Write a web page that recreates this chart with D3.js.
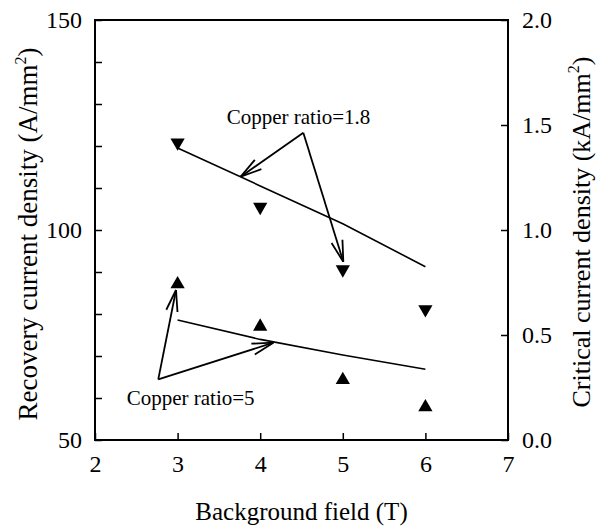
<!DOCTYPE html>
<html>
<head>
<meta charset="utf-8">
<script src="https://cdn.jsdelivr.net/npm/d3@7"></script>
<style>
  html, body { margin: 0; padding: 0; background: #fff; }
  svg { display: block; }
  text { font-family: "Liberation Serif", "Times New Roman", serif; fill: #000; }
</style>
</head>
<body>
<svg id="chart" width="603" height="530"></svg>
<script>
// ---- data ----
const fields = [3, 4, 5, 6];                       // Background field (T)
const recovery18 = [120.8, 105.5, 90.6, 81.1];     // Recovery current density, copper ratio 1.8 (A/mm^2)
const recovery5 = [87.1, 77.0, 64.3, 57.8];        // Recovery current density, copper ratio 5 (A/mm^2)
const critical18 = [1.39, 1.21, 1.03, 0.825];      // Critical current density, copper ratio 1.8 (kA/mm^2)
const critical5 = [0.571, 0.479, 0.405, 0.337];    // Critical current density, copper ratio 5 (kA/mm^2)
const xTicks = [2, 3, 4, 5, 6, 7];
const yLeftTicks = [50, 100, 150];
const yLeftMinor = [60, 70, 80, 90, 110, 120, 130, 140];
const yRightTicks = [0.0, 0.5, 1.0, 1.5, 2.0];
const labels = ["Copper ratio=1.8", "Copper ratio=5"];
// annotation anchors in (field, recovery) data coordinates
const labelPos = [[3.594, 125.24], [2.384, 58.33]];
const arrowOrigins = [[4.522, 123.17], [2.766, 64.45]];
const arrowTips = [[[3.764, 112.69], [5.006, 92.45]], [[2.981, 85.71], [4.159, 73.17]]];

// ---- layout ----
const svg = d3.select("#chart");
const L = 95, R = 508, T = 20, B = 440;
const x = d3.scaleLinear().domain([2, 7]).range([L, R]);
const yL = d3.scaleLinear().domain([50, 150]).range([B, T]);
const yR = d3.scaleLinear().domain([0, 2]).range([B, T]);
const tickLen = 7;
const serif = "Liberation Serif, Times New Roman, serif";

// frame
svg.append("rect").attr("x", L).attr("y", T).attr("width", R - L).attr("height", B - T)
  .attr("fill", "none").attr("stroke", "#000").attr("stroke-width", 2);

// bottom axis
const bAx = svg.append("g").attr("transform", `translate(0,${B})`)
  .call(d3.axisBottom(x).tickValues(xTicks).tickSize(-tickLen).tickPadding(15).tickFormat(d3.format("d")));
bAx.attr("font-family", serif);
bAx.select(".domain").remove();
bAx.selectAll("line").attr("stroke-width", 1.5);
bAx.selectAll("text").attr("font-size", 24).attr("dy", "0.71em");

// left axis
const lAx = svg.append("g").attr("transform", `translate(${L},0)`)
  .call(d3.axisLeft(yL).tickValues(yLeftTicks).tickSize(-tickLen).tickPadding(13).tickFormat(d3.format("d")));
lAx.attr("font-family", serif);
lAx.select(".domain").remove();
lAx.selectAll("line").attr("stroke-width", 1.5);
lAx.selectAll("text").attr("font-size", 24);
const lMin = svg.append("g").attr("transform", `translate(${L},0)`)
  .call(d3.axisLeft(yL).tickValues(yLeftMinor).tickSize(-tickLen).tickFormat(""));
lMin.select(".domain").remove();
lMin.selectAll("line").attr("stroke-width", 1.5);

// right axis
const rAx = svg.append("g").attr("transform", `translate(${R},0)`)
  .call(d3.axisRight(yR).tickValues(yRightTicks).tickSize(-tickLen).tickPadding(14).tickFormat(d3.format(".1f")));
rAx.attr("font-family", serif);
rAx.select(".domain").remove();
rAx.selectAll("line").attr("stroke-width", 1.5);
rAx.selectAll("text").attr("font-size", 24);

// axis titles
svg.append("text").attr("x", (L + R) / 2).attr("y", 520).attr("text-anchor", "middle")
  .attr("font-size", 25).text("Background field (T)");

const lt = svg.append("text").attr("transform", `translate(37,${(T + B) / 2 + 4}) rotate(-90)`)
  .attr("text-anchor", "middle").attr("font-size", 27);
lt.append("tspan").text("Recovery current density (A/mm");
lt.append("tspan").attr("font-size", 16).attr("dy", -11).text("2");
lt.append("tspan").attr("dy", 11).text(")");

const rt = svg.append("text").attr("transform", `translate(590,${(T + B) / 2 + 2}) rotate(-90)`)
  .attr("text-anchor", "middle").attr("font-size", 26);
rt.append("tspan").text("Critical current density (kA/mm");
rt.append("tspan").attr("font-size", 16).attr("dy", -11).text("2");
rt.append("tspan").attr("dy", 11).text(")");

// critical current lines (right axis)
const lineR = d3.line().x((d, i) => x(fields[i])).y(d => yR(d));
[critical18, critical5].forEach(s => {
  svg.append("path").attr("d", lineR(s)).attr("fill", "none").attr("stroke", "#000").attr("stroke-width", 1.6);
});

// recovery markers (left axis)
const tri = d3.symbol().type(d3.symbolTriangle).size(88);
svg.append("g").selectAll("path").data(recovery18).join("path")
  .attr("d", tri).attr("fill", "#000")
  .attr("transform", (d, i) => `translate(${x(fields[i])},${yL(d)}) rotate(180)`);
svg.append("g").selectAll("path").data(recovery5).join("path")
  .attr("d", tri).attr("fill", "#000")
  .attr("transform", (d, i) => `translate(${x(fields[i])},${yL(d)})`);

// annotations
labels.forEach((lab, k) => {
  svg.append("text").attr("x", x(labelPos[k][0])).attr("y", yL(labelPos[k][1]))
    .attr("font-size", 21).text(lab);
  const o = [x(arrowOrigins[k][0]), yL(arrowOrigins[k][1])];
  arrowTips[k].forEach(tp => {
    const t = [x(tp[0]), yL(tp[1])];
    svg.append("line").attr("x1", o[0]).attr("y1", o[1]).attr("x2", t[0]).attr("y2", t[1])
      .attr("stroke", "#000").attr("stroke-width", 1.8);
    const ang = Math.atan2(o[1] - t[1], o[0] - t[0]);
    const len = 22, half = 15 * Math.PI / 180;
    [ang - half, ang + half].forEach(a => {
      svg.append("line").attr("x1", t[0]).attr("y1", t[1])
        .attr("x2", t[0] + len * Math.cos(a)).attr("y2", t[1] + len * Math.sin(a))
        .attr("stroke", "#000").attr("stroke-width", 1.8);
    });
  });
});
</script>
</body>
</html>
